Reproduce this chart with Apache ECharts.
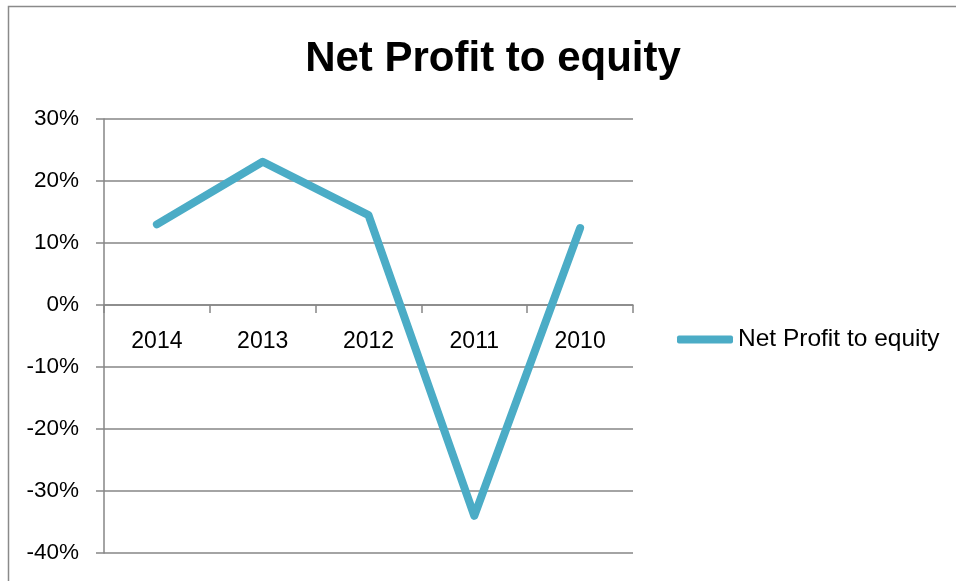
<!DOCTYPE html>
<html>
<head>
<meta charset="utf-8">
<script src="https://cdn.jsdelivr.net/npm/echarts@6/dist/echarts.min.js"></script>
<style>
html,body{margin:0;padding:0;background:#fff;}
#c{width:956px;height:581px;}
</style>
</head>
<body>
<div id="c"></div>
<script>
const categories = ['2014', '2013', '2012', '2011', '2010'];
const seriesName = 'Net Profit to equity';
const values = [13.0, 23.1, 14.5, -34.0, 12.4];
const titleText = 'Net Profit to equity';

const FONT = '"Liberation Sans", Arial, sans-serif';
const chart = echarts.init(document.getElementById('c'), null, {renderer: 'canvas'});
chart.setOption({
  animation: false,
  backgroundColor: '#ffffff',
  graphic: [{
    type: 'rect', silent: true,
    shape: {x: 8.5, y: 6.5, width: 1200, height: 1000},
    style: {fill: 'none', stroke: '#8a8a8a', lineWidth: 1.5}
  }],
  title: {
    text: titleText,
    left: 488, top: 33, textAlign: 'center',
    textStyle: {fontFamily: FONT, fontSize: 42, fontWeight: 'bold', color: '#000'}
  },
  legend: {
    data: [seriesName],
    left: 672, top: 322,
    icon: 'roundRect',
    itemWidth: 56, itemHeight: 8,
    textStyle: {fontFamily: FONT, fontSize: 24.5, color: '#000'}
  },
  grid: {left: 104, right: 323, top: 119, bottom: 28, outerBoundsMode: 'none', containLabel: false},
  xAxis: {
    type: 'category',
    data: categories,
    boundaryGap: true,
    axisLine: {onZero: true, lineStyle: {color: '#868686', width: 1.5}},
    axisTick: {show: true, inside: false, length: 8, lineStyle: {color: '#868686', width: 1.5}},
    axisLabel: {fontFamily: FONT, fontSize: 23, color: '#000', margin: -223},
    splitLine: {show: false}
  },
  yAxis: {
    type: 'value',
    min: -40, max: 30, interval: 10,
    axisLine: {show: true, lineStyle: {color: '#868686', width: 1.5}},
    axisTick: {show: true, length: 8, lineStyle: {color: '#868686', width: 1.5}},
    axisLabel: {fontFamily: FONT, fontSize: 22.5, color: '#000', margin: 25,
      formatter: v => v + '%'},
    splitLine: {show: true, lineStyle: {color: '#868686', width: 1.5}}
  },
  series: [{
    name: seriesName,
    type: 'line',
    data: values,
    symbol: 'none',
    lineStyle: {color: '#4BACC6', width: 8, cap: 'round', join: 'round'},
    itemStyle: {color: '#4BACC6'}
  }]
});
</script>
</body>
</html>
